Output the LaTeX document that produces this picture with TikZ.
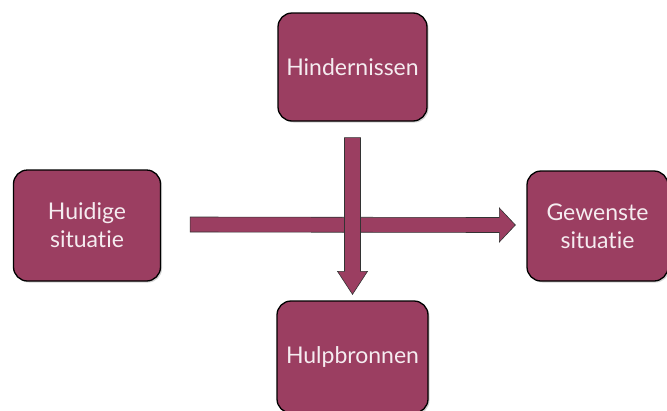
\documentclass[tikz,border=0pt]{standalone}
\usepackage{fontspec}
\setmainfont{Lato}[Ligatures=NoCommon]
\usetikzlibrary{calc,shadows}
\definecolor{boxfill}{RGB}{155,62,97}
\definecolor{boxtext}{RGB}{245,236,240}
\begin{document}
\begin{tikzpicture}[x=1pt,y=-1pt,
  box/.style={draw=black, line width=1.3pt, fill=boxfill, rounded corners=14pt,
    minimum width=#1, text=boxtext, font=\fontsize{23}{28}\selectfont, align=center,
    drop shadow={shadow xshift=1.5pt, shadow yshift=-1.5pt, opacity=0.35}},
  box/.default=149pt,
  arr/.style={draw=black!80, line width=0.6pt, fill=boxfill}]
\useasboundingbox (0,0) rectangle (667,410);
\node[box=149pt, minimum height=108pt] (top) at (352.5,67) {Hindernissen};
\node[box=147pt, minimum height=111pt] (left) at (87,225.5) {Huidige\\situatie};
\node[box=141pt, minimum height=110pt] (right) at (597.5,226) {Gewenste\\situatie};
\node[box=151pt, minimum height=112pt] (bottom) at (352.5,357) {Hulpbronnen};
% horizontal arrow
\coordinate (hs) at ($(left.east)+(29,-1)$);
\coordinate (he) at ($(right.west)+(-11,-1)$);
\path[arr] ($(hs)+(0,-7.5)$) -- ($(he)+(-16,-7.5)$) -- ($(he)+(-16,-17)$) -- (he)
  -- ($(he)+(-16,17)$) -- ($(he)+(-16,7.5)$) -- ($(hs)+(0,7.5)$) -- cycle;
% vertical arrow
\coordinate (vs) at ($(top.south)+(0,16)$);
\coordinate (ve) at ($(bottom.north)+(0,-6)$);
\path[arr] ($(vs)+(-8,0)$) -- ($(ve)+(-8,-23)$) -- ($(ve)+(-15,-23)$) -- (ve)
  -- ($(ve)+(15,-23)$) -- ($(ve)+(8,-23)$) -- ($(vs)+(8,0)$) -- cycle;
\end{tikzpicture}
\end{document}
